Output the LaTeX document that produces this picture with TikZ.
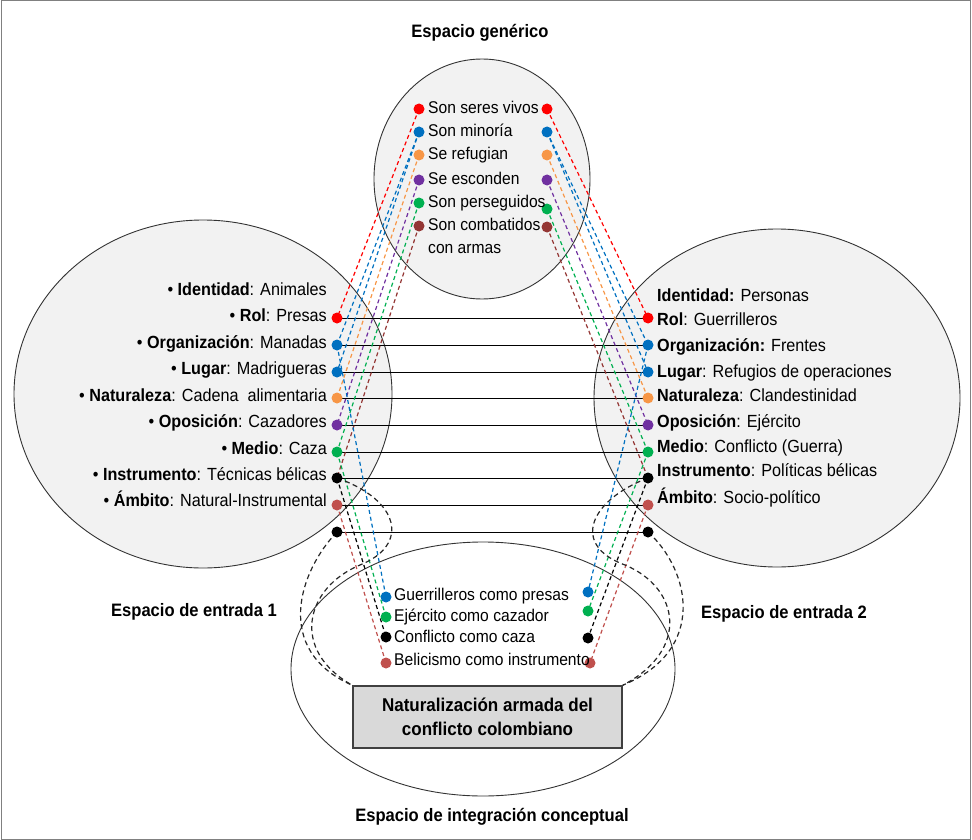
\documentclass[tikz,border=0pt]{standalone}
\usepackage{fontspec}
\setmainfont{Liberation Sans}[FakeStretch=0.92]
\pgfdeclarelayer{bg}
\pgfdeclarelayer{lines}
\pgfsetlayers{bg,lines,main}
\definecolor{cred}{HTML}{FF0000}
\definecolor{cblue}{HTML}{0070C0}
\definecolor{corange}{HTML}{F79646}
\definecolor{cpurple}{HTML}{7030A0}
\definecolor{cgreen}{HTML}{00B050}
\definecolor{cbrown}{HTML}{943634}
\definecolor{crose}{HTML}{C0504D}
\definecolor{ellgray}{HTML}{F2F2F2}
\definecolor{boxgray}{HTML}{D9D9D9}
\begin{document}
\begin{tikzpicture}[x=1pt,y=-1pt,
  dot/.style={circle,inner sep=0pt,minimum size=11pt},
  txt/.style={inner xsep=0pt,inner ysep=0pt,text height=12.5pt,text depth=3.5pt,font=\fontsize{17}{20}\selectfont},
  sidetxt/.style={txt,font=\fontsize{17.6}{20}\selectfont},
  ttl/.style={inner sep=0pt,font=\fontsize{18}{20}\selectfont\bfseries},
  space/.style={draw=black!80,line width=0.9pt},
  hline/.style={draw=black,line width=1pt},
  cdash/.style={dash pattern=on 4pt off 3pt,line width=1.2pt},
  kdash/.style={dash pattern=on 5pt off 3.5pt,line width=1.2pt,black!85},
  resbox/.style={draw=black!75,line width=1.6pt,fill=boxgray,minimum width=269pt,minimum height=62pt,align=center,inner sep=0pt,font=\fontsize{18.5}{24}\selectfont\bfseries}
]
\useasboundingbox (0,0) rectangle (972,840);
\draw[black!50,line width=1pt] (1,1) rectangle (970,839);

% spaces
\begin{pgfonlayer}{bg}
\draw[space,fill=ellgray] (482,179) ellipse [x radius=108pt,y radius=120pt];
\draw[space,fill=ellgray] (203,394) ellipse [x radius=189pt,y radius=174pt];
\draw[space,fill=ellgray] (777,398) ellipse [x radius=183pt,y radius=169pt];
\draw[space] (483,669) ellipse [x radius=192pt,y radius=127pt];
\end{pgfonlayer}

% titles
\node[ttl] (tgen) at (480,33) {Espacio genérico};
\node[ttl] (tin1) at (194,612) {Espacio de entrada 1};
\node[ttl] (tin2) at (784,614) {Espacio de entrada 2};
\node[ttl] (tint) at (492,817) {Espacio de integración conceptual};

% generic space dots
\node[dot,fill=cred]    (t1L) at (419,109) {};
\node[dot,fill=cblue]   (t2L) at (419,132) {};
\node[dot,fill=corange] (t3L) at (419,155) {};
\node[dot,fill=cpurple] (t4L) at (419,180) {};
\node[dot,fill=cgreen]  (t5L) at (419,203) {};
\node[dot,fill=cbrown]  (t6L) at (419,226) {};
\node[dot,fill=cred]    (t1R) at (547,109) {};
\node[dot,fill=cblue]   (t2R) at (547,132) {};
\node[dot,fill=corange] (t3R) at (547,155) {};
\node[dot,fill=cpurple] (t4R) at (547,180) {};
\node[dot,fill=cgreen]  (t5R) at (547,209) {};
\node[dot,fill=cbrown]  (t6R) at (547,227) {};
\node[txt,anchor=west] (g1) at (428,109) {Son seres vivos};
\node[txt,anchor=west] (g2) at (428,132) {Son minoría};
\node[txt,anchor=west] (g3) at (428,155) {Se refugian};
\node[txt,anchor=west] (g4) at (428,180) {Se esconden};
\node[txt,anchor=west] (g5) at (428,203) {Son perseguidos};
\node[txt,anchor=west] (g6) at (428,226) {Son combatidos};
\node[txt,anchor=west] (g7) at (428,249) {con armas};

% input 1 dots
\node[dot,fill=cred]    (l1) at (337,318) {};
\node[dot,fill=cblue]   (l2) at (337,345) {};
\node[dot,fill=cblue]   (l3) at (337,372) {};
\node[dot,fill=corange] (l4) at (337,398) {};
\node[dot,fill=cpurple] (l5) at (337,425) {};
\node[dot,fill=cgreen]  (l6) at (337,452) {};
\node[dot,fill=black]   (l7) at (337,478) {};
\node[dot,fill=crose]   (l8) at (337,505) {};
\node[dot,fill=black]   (l9) at (337,532) {};
% input 2 dots
\node[dot,fill=cred]    (r1) at (648,318) {};
\node[dot,fill=cblue]   (r2) at (648,345) {};
\node[dot,fill=cblue]   (r3) at (648,372) {};
\node[dot,fill=corange] (r4) at (648,398) {};
\node[dot,fill=cpurple] (r5) at (648,425) {};
\node[dot,fill=cgreen]  (r6) at (648,452) {};
\node[dot,fill=black]   (r7) at (648,478) {};
\node[dot,fill=crose]   (r8) at (648,505) {};
\node[dot,fill=black]   (r9) at (648,532) {};

% input 1 texts
\node[sidetxt,anchor=east] (a0) at (327,291) {• \textbf{Identidad}: Animales};
\node[sidetxt,anchor=east] (a1) at (327,317) {• \textbf{Rol}: Presas};
\node[sidetxt,anchor=east] (a2) at (327,344) {• \textbf{Organización}: Manadas};
\node[sidetxt,anchor=east] (a3) at (327,370) {• \textbf{Lugar}: Madrigueras};
\node[sidetxt,anchor=east] (a4) at (327,397) {• \textbf{Naturaleza}: Cadena\ \ alimentaria};
\node[sidetxt,anchor=east] (a5) at (327,423) {• \textbf{Oposición}: Cazadores};
\node[sidetxt,anchor=east] (a6) at (327,450) {• \textbf{Medio}: Caza};
\node[sidetxt,anchor=east] (a7) at (327,476) {• \textbf{Instrumento}: Técnicas bélicas};
\node[sidetxt,anchor=east] (a8) at (327,502) {• \textbf{Ámbito}: Natural-Instrumental};
% input 2 texts
\node[sidetxt,anchor=west] (p0) at (657,297) {\textbf{Identidad:} Personas};
\node[sidetxt,anchor=west] (p1) at (657,321) {\textbf{Rol}: Guerrilleros};
\node[sidetxt,anchor=west] (p2) at (657,347) {\textbf{Organización:} Frentes};
\node[sidetxt,anchor=west] (p3) at (657,373) {\textbf{Lugar}: Refugios de operaciones};
\node[sidetxt,anchor=west] (p4) at (657,397) {\textbf{Naturaleza}: Clandestinidad};
\node[sidetxt,anchor=west] (p5) at (657,423) {\textbf{Oposición}: Ejército};
\node[sidetxt,anchor=west] (p6) at (657,448) {\textbf{Medio}: Conflicto (Guerra)};
\node[sidetxt,anchor=west] (p7) at (657,472) {\textbf{Instrumento}: Políticas bélicas};
\node[sidetxt,anchor=west] (p8) at (657,499) {\textbf{Ámbito}: Socio-político};

% blend dots and texts
\node[dot,fill=cblue]  (b1L) at (386,597) {};
\node[dot,fill=cgreen] (b2L) at (386,617) {};
\node[dot,fill=black]  (b3L) at (386,637) {};
\node[dot,fill=crose]  (b4L) at (386,663) {};
\node[dot,fill=cblue]  (b1R) at (588,592) {};
\node[dot,fill=cgreen] (b2R) at (588,611) {};
\node[dot,fill=black]  (b3R) at (588,638) {};
\node[dot,fill=crose]  (b4R) at (590,663) {};
\node[txt,anchor=west] (c1) at (394,596) {Guerrilleros como presas};
\node[txt,anchor=west] (c2) at (394,617) {Ejército como cazador};
\node[txt,anchor=west] (c3) at (394,638) {Conflicto como caza};
\node[txt,anchor=west] (c4) at (394,661) {Belicismo como instrumento};

\node[resbox] (box) at (487.5,717) {Naturalización armada del\\conflicto colombiano};

\begin{pgfonlayer}{lines}
% horizontal mappings
\foreach \i in {1,...,9} {\draw[hline] (l\i.center) -- (r\i.center);}
% generic -> input 1
\draw[cdash,cred]    (t1L.center) -- (l1.center);
\draw[cdash,cblue]   (t2L.center) -- (l2.center);
\draw[cdash,cblue]   (t2L.center) -- (l3.center);
\draw[cdash,corange] (t3L.center) -- (l4.center);
\draw[cdash,cpurple] (t4L.center) -- (l5.center);
\draw[cdash,cgreen]  (t5L.center) -- (l6.center);
\draw[cdash,cbrown]  (t6L.center) -- (l7.center);
% generic -> input 2
\draw[cdash,cred]    (t1R.center) -- (r1.center);
\draw[cdash,cblue]   (t2R.center) -- (r2.center);
\draw[cdash,cblue]   (t2R.center) -- (r3.center);
\draw[cdash,corange] (t3R.center) -- (r4.center);
\draw[cdash,cpurple] (t4R.center) -- (r5.center);
\draw[cdash,cgreen]  (t5R.center) -- (r6.center);
\draw[cdash,cbrown]  (t6R.center) -- (r7.center);
% inputs -> blend
\draw[cdash,cblue]  (l2.center) -- (b1L.center);
\draw[cdash,cgreen] (l6.center) -- (b2L.center);
\draw[cdash,black]  (l7.center) -- (b3L.center);
\draw[cdash,crose]  (l8.center) -- (b4L.center);
\draw[cdash,cblue]  (r2.center) -- (b1R.center);
\draw[cdash,cgreen] (r6.center) -- (b2R.center);
\draw[cdash,black]  (r7.center) -- (b3R.center);
\draw[cdash,crose]  (r8.center) -- (b4R.center);
% dashed black projections
\draw[kdash] (l9.center) .. controls (300,570) and (272,650) .. (box.north west);
\draw[kdash] (l7.center) .. controls (400,500) and (410,545) .. (360,565) .. controls (305,588) and (290,650) .. (box.north west);
\draw[kdash] (r9.center) .. controls (690,570) and (708,650) .. (box.north east);
\draw[kdash] (r7.center) .. controls (590,500) and (570,545) .. (625,565) .. controls (680,588) and (690,650) .. (box.north east);
\end{pgfonlayer}
\end{tikzpicture}
\end{document}
